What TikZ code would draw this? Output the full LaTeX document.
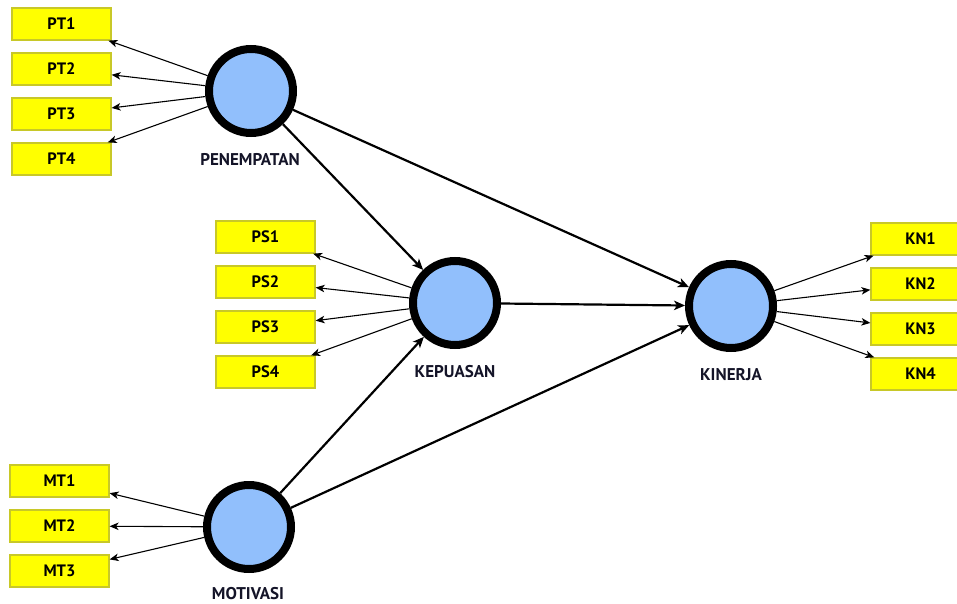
\documentclass[tikz,border=0pt]{standalone}
\usepackage{fontspec}
\setmainfont{PT Sans}
\usetikzlibrary{arrows.meta}
\definecolor{lvfill}{RGB}{145,191,252}
\definecolor{boxfill}{RGB}{255,255,0}
\definecolor{boxline}{RGB}{200,200,40}
\definecolor{lbl}{RGB}{20,20,40}
\tikzset{
  latent/.style={circle,draw=black,line width=8pt,fill=lvfill,minimum size=84pt,inner sep=0pt},
  indbox/.style={rectangle,draw=boxline,line width=1.2pt,fill=boxfill,minimum width=99pt,minimum height=32pt,inner sep=0pt,font=\fontsize{16.5}{19}\selectfont\bfseries},
  lvlabel/.style={font=\fontsize{17}{20}\selectfont\bfseries,text=lbl,inner sep=0pt},
  load/.style={line width=1.1pt,-{Stealth[length=9pt,width=7.5pt,inset=2.5pt]}},
  path/.style={line width=2.2pt,-{Stealth[length=11pt,width=9.5pt,inset=3pt]}}
}
\begin{document}
\begin{tikzpicture}[x=1pt,y=-1pt]
\useasboundingbox (0,0) rectangle (957,604);
\begin{scope}
\clip (0,0) rectangle (957,604);
% indicator boxes
\node[indbox] (PT1) at (61.5,24) {PT1};
\node[indbox] (PT2) at (61.5,69) {PT2};
\node[indbox] (PT3) at (61.5,114) {PT3};
\node[indbox] (PT4) at (61.5,159) {PT4};
\node[indbox] (PS1) at (265.5,237) {PS1};
\node[indbox] (PS2) at (265.5,282) {PS2};
\node[indbox] (PS3) at (265.5,327) {PS3};
\node[indbox] (PS4) at (265.5,372) {PS4};
\node[indbox] (KN1) at (920.5,239) {KN1};
\node[indbox] (KN2) at (920.5,284) {KN2};
\node[indbox] (KN3) at (920.5,329) {KN3};
\node[indbox] (KN4) at (920.5,374) {KN4};
\node[indbox] (MT1) at (59.5,481) {MT1};
\node[indbox] (MT2) at (59.5,526) {MT2};
\node[indbox] (MT3) at (59.5,571) {MT3};
% latent variables
\node[latent] (PEN) at (251,91) {};
\node[latent] (KEP) at (455,303) {};
\node[latent] (KIN) at (731,306) {};
\node[latent] (MOT) at (249,527) {};
% labels
\node[lvlabel] (PENl) at (250,160) {PENEMPATAN};
\node[lvlabel] (KEPl) at (455,372) {KEPUASAN};
\node[lvlabel] (KINl) at (731,375) {KINERJA};
\node[lvlabel] (MOTl) at (248,594) {MOTIVASI};
% loadings
\foreach \i in {1,2,3,4} {
  \draw[load] (PEN) -- (PT\i);
  \draw[load] (KEP) -- (PS\i);
  \draw[load] (KIN) -- (KN\i);
}
\foreach \i in {1,2,3} {
  \draw[load] (MOT) -- (MT\i);
}
% structural paths
\draw[path] (PEN) -- (KEP);
\draw[path] (PEN) -- (KIN);
\draw[path] (KEP) -- (KIN);
\draw[path] (MOT) -- (KEP);
\draw[path] (MOT) -- (KIN);
\end{scope}
\end{tikzpicture}
\end{document}
